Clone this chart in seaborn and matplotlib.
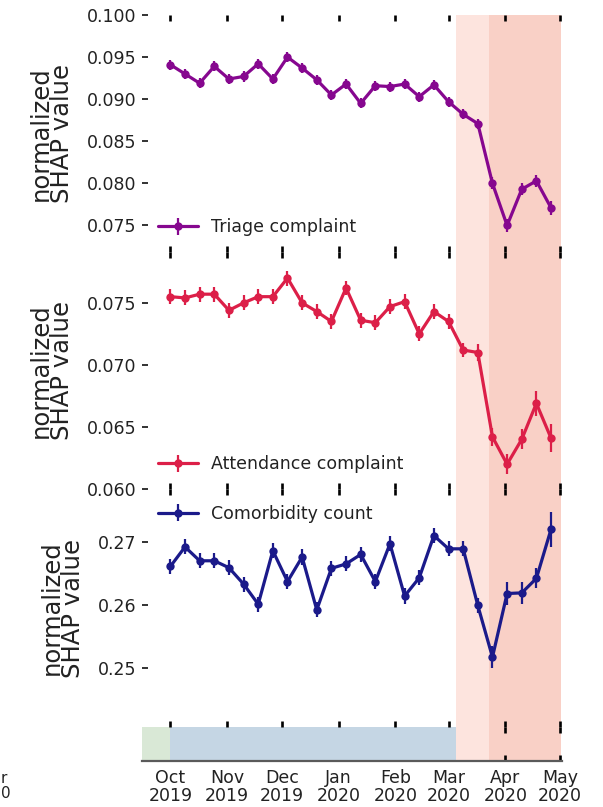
import matplotlib
matplotlib.use("Agg")
import matplotlib.pyplot as plt
import seaborn as sns
import pandas as pd
import numpy as np

sns.set_theme(style="white")
plt.rcParams["font.family"] = ["DejaVu Sans"]

# ---------------- data ----------------
dates = pd.date_range("2019-10-01", periods=27, freq="8D")

triage = [0.0941, 0.0930, 0.0919, 0.0939, 0.0924, 0.0927, 0.0942, 0.0924, 0.0950,
          0.0937, 0.0923, 0.0905, 0.0918, 0.0895, 0.0916, 0.0915, 0.0918, 0.0903,
          0.0917, 0.0897, 0.0882, 0.0871, 0.0800, 0.0750, 0.0793, 0.0803, 0.0771]
triage_err = [0.0006] * 22 + [0.0007, 0.0008, 0.0007, 0.0007, 0.0008]

attendance = [0.0755, 0.0754, 0.0757, 0.0757, 0.0744, 0.0750, 0.0755, 0.0755, 0.0770,
              0.0750, 0.0743, 0.0735, 0.0762, 0.0736, 0.0734, 0.0747, 0.0751, 0.0725,
              0.0743, 0.0735, 0.0712, 0.0710, 0.0642, 0.0620, 0.0640, 0.0669, 0.0641]
attendance_err = [0.0006] * 20 + [0.0006, 0.0007, 0.0007, 0.0008, 0.0008, 0.0010, 0.0011]

comorbidity = [0.2661, 0.2692, 0.2670, 0.2670, 0.2659, 0.2633, 0.2601, 0.2686, 0.2637,
               0.2676, 0.2592, 0.2658, 0.2665, 0.2680, 0.2637, 0.2697, 0.2614, 0.2643,
               0.2710, 0.2689, 0.2689, 0.2599, 0.2517, 0.2618, 0.2619, 0.2642, 0.2720]
comorbidity_err = [0.0012] * 22 + [0.0018, 0.0018, 0.0018, 0.0016, 0.0028]

series_names = ["Triage complaint", "Attendance complaint", "Comorbidity count"]
series_colors = ["#86078f", "#dc1f48", "#1b1a8a"]

month_ticks = pd.date_range("2019-10-01", "2020-05-01", freq="MS")
month_labels = ["Oct\n2019", "Nov\n2019", "Dec\n2019", "Jan\n2020",
                "Feb\n2020", "Mar\n2020", "Apr\n2020", "May\n2020"]

period_bounds = [pd.Timestamp("2019-09-15 12:00"), pd.Timestamp("2019-10-01"),
                 pd.Timestamp("2020-03-05"), pd.Timestamp("2020-03-23"),
                 pd.Timestamp("2020-05-01 12:00")]
period_colors = ["#d9e8d6", "#c5d6e4", "#fde4de", "#f9d0c6"]

ylims = [(0.07185, 0.1000), (0.0600, 0.0791), (0.2406, 0.2784)]
yticks = [[0.075, 0.080, 0.085, 0.090, 0.095, 0.100],
          [0.060, 0.065, 0.070, 0.075],
          [0.25, 0.26, 0.27]]
yfmt = ["{:.3f}", "{:.3f}", "{:.2f}"]
legend_locs = ["lower left", "lower left", "upper left"]

xlim = (pd.Timestamp("2019-09-15 12:00"), pd.Timestamp("2020-05-02"))

# ---------------- layout ----------------
W_PX, H_PX = 603, 807
fig = plt.figure(figsize=(W_PX / 100, H_PX / 100), dpi=100)
fig.patch.set_facecolor("white")

L = 142 / W_PX
W = (562 - 142) / W_PX


def fy(px):
    return 1 - px / H_PX


panel_px = [(15, 252), (252, 489), (489, 727)]
strip_px = (727, 761)

# background shading across everything
bg = fig.add_axes([L, fy(strip_px[1]), W, fy(15) - fy(strip_px[1])], zorder=0)
bg.axvspan(period_bounds[2], period_bounds[3], color=period_colors[2], lw=0)
bg.axvspan(period_bounds[3], period_bounds[4], color=period_colors[3], lw=0)
bg.set_xlim(*xlim)
bg.axis("off")

tick_kw = dict(labelsize=12.5, labelcolor="#222222")

values = [triage, attendance, comorbidity]
errs = [triage_err, attendance_err, comorbidity_err]

for i, (top, bot) in enumerate(panel_px):
    ax = fig.add_axes([L, fy(bot), W, fy(top) - fy(bot)], zorder=2)
    ax.set_facecolor("none")
    df = pd.DataFrame({"date": dates, "value": values[i]})
    sns.lineplot(data=df, x="date", y="value", ax=ax, color=series_colors[i],
                 marker="o", markersize=6, markeredgewidth=0, linewidth=2.3,
                 legend=False)
    ln = ax.lines[-1]
    eb = ax.errorbar(dates, values[i], yerr=errs[i], fmt="none",
                     ecolor=series_colors[i], elinewidth=1.6, capsize=0)
    ax.set_xlim(*xlim)
    ax.set_ylim(*ylims[i])
    ax.set_yticks(yticks[i])
    ax.set_yticklabels([yfmt[i].format(v) for v in yticks[i]])
    ax.set_xticks(month_ticks)
    ax.set_xticklabels([])
    for s in ax.spines.values():
        s.set_visible(False)
    ax.tick_params(axis="x", which="major", direction="in", length=4.3, width=1.9,
                   color="black", top=True, bottom=True, labelbottom=False)
    ax.tick_params(axis="y", which="major", direction="in", length=4.3, width=1.3,
                   color="#222222", left=True, pad=4, **tick_kw)
    ax.set_xlabel("")
    ax.set_ylabel("normalized\nSHAP value", fontsize=17.5, color="#222222",
                  linespacing=0.85, labelpad=9)
    leg = ax.legend(handles=[(ln, eb)], labels=[series_names[i]], loc=legend_locs[i],
                    frameon=False, fontsize=12.5, handlelength=2.3,
                    handletextpad=0.8)
    for t in leg.get_texts():
        t.set_color("#222222")

# bottom strip with the period shading
st = fig.add_axes([L, fy(strip_px[1]), W, fy(strip_px[0]) - fy(strip_px[1])], zorder=1)
st.set_facecolor("none")
st.axvspan(period_bounds[0], period_bounds[1], color=period_colors[0], lw=0)
st.axvspan(period_bounds[1], period_bounds[2], color=period_colors[1], lw=0)
st.set_xlim(*xlim)
st.set_ylim(0, 1)
st.set_yticks([])
st.set_xticks(month_ticks)
st.set_xticklabels(month_labels)
for name, s in st.spines.items():
    s.set_visible(name == "bottom")
st.spines["bottom"].set_color("#5a5a5a")
st.spines["bottom"].set_linewidth(1.6)
st.tick_params(axis="x", direction="in", length=4.3, width=1.9, color="black",
               top=True, bottom=True, pad=6, **tick_kw)
for lab in st.get_xticklabels():
    lab.set_linespacing(0.95)

# fragment of a neighbouring panel's tick label visible at the left edge
fig.text(0.5 / W_PX, fy(786), "r\n0", ha="left", va="center", fontsize=11,
         color="#222222", linespacing=1.0)

fig.savefig("out.png", dpi=100, facecolor="white")
